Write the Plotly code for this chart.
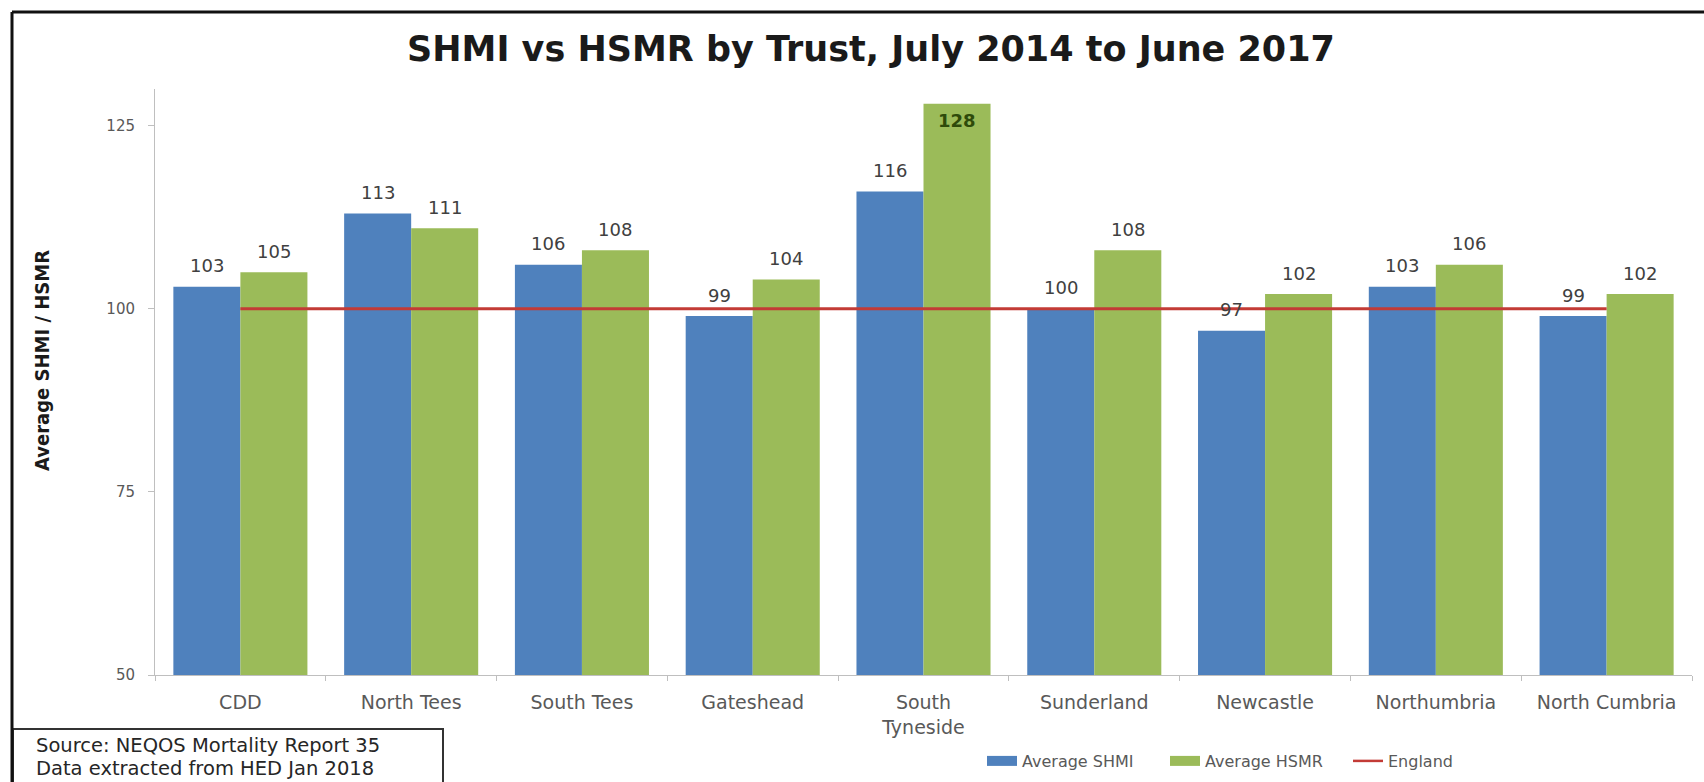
import plotly.graph_objects as go

# Trust-level mortality indicators, July 2014 to June 2017
trusts = ["CDD", "North Tees", "South Tees", "Gateshead", "South Tyneside",
          "Sunderland", "Newcastle", "Northumbria", "North Cumbria"]
tick_labels = ["CDD", "North Tees", "South Tees", "Gateshead", "South<br>Tyneside",
               "Sunderland", "Newcastle", "Northumbria", "North Cumbria"]
avg_shmi = [103, 113, 106, 99, 116, 100, 97, 103, 99]
avg_hsmr = [105, 111, 108, 104, 128, 108, 102, 106, 102]
england = [100, 100, 100, 100, 100, 100, 100, 100, 100]
y_ticks = [50, 75, 100, 125]

W, H = 1704, 782
L, R, T, B = 155, 12, 89, 107          # plot-area margins in px
PW, PH = W - L - R, H - T - B

def px_x(p):
    return (p - L) / PW

def px_y(p):
    return (H - B - p) / PH

FONT = "DejaVu Sans, Verdana, sans-serif"
LABEL = "#404040"
AXIS = "#BFBFBF"
BLUE, GREEN, RED = "#4F81BD", "#9BBB59", "#C33B36"

y_max = 130
bargap = 0.215
# half a bar width in px, used to centre value labels over each bar of a pair
half_bar = PW / len(trusts) * (1 - bargap) / 4

fig = go.Figure()
fig.add_trace(go.Bar(
    x=trusts, y=avg_shmi, name="Average SHMI",
    marker=dict(color=BLUE, line=dict(width=0)), showlegend=False,
))
fig.add_trace(go.Bar(
    x=trusts, y=avg_hsmr, name="Average HSMR",
    marker=dict(color=GREEN, line=dict(width=0)), showlegend=False,
))
fig.add_trace(go.Scatter(
    x=trusts, y=england, name="England", mode="lines",
    line=dict(color=RED, width=3), showlegend=False,
))

# legend keys: wide flat swatches for the bar series, a thin line for England
for name, color, width in [("Average SHMI", BLUE, 10), ("Average HSMR", GREEN, 10),
                           ("England", RED, 2.5)]:
    fig.add_trace(go.Scatter(x=[None], y=[None], name=name, mode="lines",
                             line=dict(color=color, width=width)))

annotations = []
# value labels above each bar (the tallest one sits inside its bar top)
for trust, s, h in zip(trusts, avg_shmi, avg_hsmr):
    annotations.append(dict(x=trust, y=s, xref="x", yref="y", text=str(s),
                            xshift=-half_bar, yshift=21, showarrow=False,
                            font=dict(family=FONT, size=18, color=LABEL)))
    inside = h + 3 > y_max
    annotations.append(dict(x=trust, y=h, xref="x", yref="y", text=str(h),
                            xshift=half_bar, yshift=-17 if inside else 21,
                            showarrow=False,
                            font=dict(family=FONT, size=18,
                                      color="#2E4A0A" if inside else LABEL,
                                      weight="bold" if inside else "normal")))

annotations += [
    dict(text="Average SHMI / HSMR", textangle=-90,
         xref="paper", yref="paper", x=px_x(42), y=px_y(361),
         xanchor="center", yanchor="middle", showarrow=False,
         font=dict(family="DejaVu Sans Condensed, Liberation Sans Narrow, Arial Narrow, sans-serif",
                   size=20, color="#1A1A1A", weight="bold")),
    dict(text="Source: NEQOS Mortality Report 35",
         xref="paper", yref="paper", x=px_x(34), y=px_y(745),
         xanchor="left", yanchor="middle", showarrow=False,
         font=dict(family=FONT, size=19.5, color="#262626")),
    dict(text="Data extracted from HED Jan 2018",
         xref="paper", yref="paper", x=px_x(34), y=px_y(768),
         xanchor="left", yanchor="middle", showarrow=False,
         font=dict(family=FONT, size=19.5, color="#262626")),
]

shapes = [
    # outer frame (top and left edges)
    dict(type="line", xref="paper", yref="paper",
         x0=px_x(12), x1=px_x(W), y0=px_y(12), y1=px_y(12),
         line=dict(color="#111111", width=3)),
    dict(type="line", xref="paper", yref="paper",
         x0=px_x(12), x1=px_x(12), y0=px_y(12), y1=px_y(H),
         line=dict(color="#111111", width=3)),
    # source box
    dict(type="rect", xref="paper", yref="paper",
         x0=px_x(13), x1=px_x(443), y0=px_y(729), y1=px_y(H + 2),
         line=dict(color="#333333", width=2), fillcolor="white", layer="below"),
]

fig.update_layout(
    width=W, height=H,
    margin=dict(l=L, r=R, t=T, b=B, autoexpand=False),
    paper_bgcolor="white", plot_bgcolor="white",
    barmode="group", bargap=bargap, bargroupgap=0,
    title=dict(text="<b>SHMI vs HSMR by Trust, July 2014 to June 2017</b>",
               xref="container", yref="container", x=871 / W, y=1 - 49 / H,
               xanchor="center", yanchor="middle",
               font=dict(family=FONT, size=35, color="#1A1A1A")),
    xaxis=dict(type="category", tickvals=trusts, ticktext=tick_labels,
               showline=True, linecolor=AXIS, linewidth=1,
               ticks="outside", tickson="boundaries", ticklen=5, tickcolor=AXIS,
               ticklabelstandoff=10,
               tickfont=dict(family=FONT, size=19, color="#595959"),
               showgrid=False, zeroline=False),
    yaxis=dict(range=[50, y_max], tickvals=y_ticks,
               showline=True, linecolor=AXIS, linewidth=1,
               ticks="outside", ticklen=6, tickcolor=AXIS,
               ticklabelstandoff=10,
               tickfont=dict(family=FONT, size=15, color="#595959"),
               showgrid=False, zeroline=False),
    legend=dict(orientation="h", xref="paper", yref="paper",
                x=px_x(982), y=px_y(761), xanchor="left", yanchor="middle",
                entrywidth=138, entrywidthmode="pixels",
                font=dict(family=FONT, size=16, color="#595959"),
                traceorder="normal", bgcolor="rgba(0,0,0,0)"),
    shapes=shapes,
    annotations=annotations,
)

fig.write_html("out.html")
